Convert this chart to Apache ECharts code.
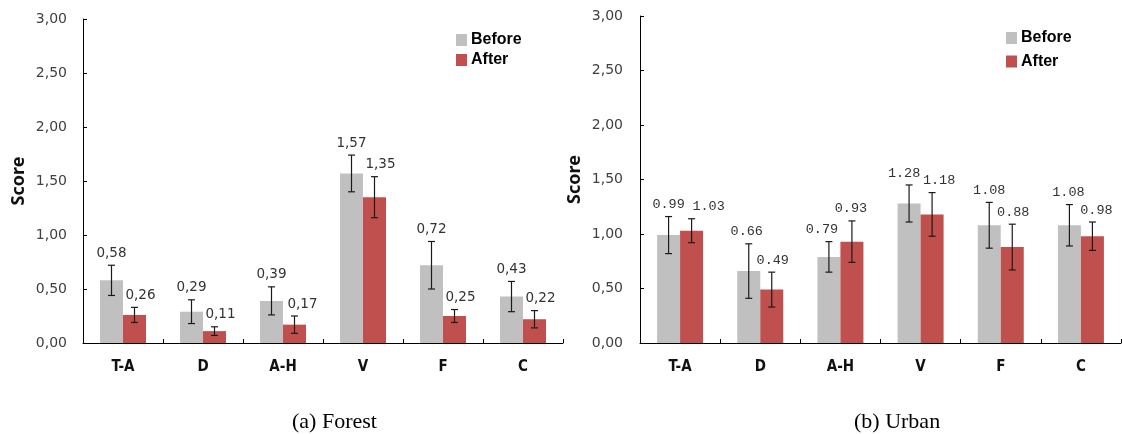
<!DOCTYPE html>
<html>
<head>
<meta charset="utf-8">
<script src="https://cdn.jsdelivr.net/npm/echarts@6/dist/echarts.min.js"></script>
<style>
  html, body { margin: 0; padding: 0; background: #ffffff; }
  #chart { width: 1122px; height: 434px; }
</style>
</head>
<body>
<div id="chart"></div>
<script>
// Symptom scores before and after, by category, for two settings
const categories = ['T-A', 'D', 'A-H', 'V', 'F', 'C'];

const forestBefore    = [0.58, 0.29, 0.39, 1.57, 0.72, 0.43];
const forestAfter     = [0.26, 0.11, 0.17, 1.35, 0.25, 0.22];
const forestBeforeErr = [0.14, 0.11, 0.13, 0.17, 0.22, 0.14];
const forestAfterErr  = [0.07, 0.04, 0.08, 0.19, 0.06, 0.08];

const urbanBefore     = [0.99, 0.66, 0.79, 1.28, 1.08, 1.08];
const urbanAfter      = [1.03, 0.49, 0.93, 1.18, 0.88, 0.98];
const urbanBeforeErr  = [0.17, 0.25, 0.14, 0.17, 0.21, 0.19];
const urbanAfterErr   = [0.11, 0.16, 0.19, 0.20, 0.21, 0.13];

const seriesNames = ['Before', 'After'];
const panelTitles = ['(a) Forest', '(b) Urban'];

const COLOR_BEFORE = '#C0C0C0';
const COLOR_AFTER = '#C0504D';
const BAR_W = 23;

// Panel layout and label styling
const panels = [
  {
    grid: { left: 83, top: 19, width: 480, height: 324 },
    before: forestBefore, after: forestAfter,
    beforeErr: forestBeforeErr, afterErr: forestAfterErr,
    valueFont: '13.5px "DejaVu Sans"', decimal: ',',
    nudgeBefore: [0, 0, 0, 0, 0, 0], nudgeAfter: [6, 6, 8, 6, 6, 6],
    legendTop: 32, legendLeft: 456, legendGap: 4,
    nameGap: 55, labelMargin: 16,
    captionX: 335
  },
  {
    grid: { left: 640, top: 16, width: 481, height: 327 },
    before: urbanBefore, after: urbanAfter,
    beforeErr: urbanBeforeErr, afterErr: urbanAfterErr,
    valueFont: '13.5px "Liberation Mono"', decimal: '.',
    nudgeBefore: [0, -2, -7, -5, 0, -1], nudgeAfter: [17, 1, -1, 7, 1, 4],
    legendTop: 30, legendLeft: 1006, legendGap: 7.5,
    nameGap: 56, labelMargin: 17,
    captionX: 897
  }
];

const chart = echarts.init(document.getElementById('chart'));

const grids = [], xAxes = [], yAxes = [], series = [], legends = [], graphics = [];

// Error bar with caps plus the value label above it
function errorRenderer(values, errs, side, nudges, font, decimal) {
  return function (params, api) {
    const i = api.value(0);
    const v = values[i], e = errs[i];
    const top = api.coord([i, v + e]);
    const bot = api.coord([i, v - e]);
    const x = top[0] + side * BAR_W / 2;
    const cap = 3.5;
    const lineStyle = { stroke: '#1a1a1a', lineWidth: 1.2 };
    return {
      type: 'group',
      children: [
        { type: 'line', shape: { x1: x, y1: top[1], x2: x, y2: bot[1] }, style: lineStyle },
        { type: 'line', shape: { x1: x - cap, y1: top[1], x2: x + cap, y2: top[1] }, style: lineStyle },
        { type: 'line', shape: { x1: x - cap, y1: bot[1], x2: x + cap, y2: bot[1] }, style: lineStyle },
        {
          type: 'text',
          style: {
            x: x + nudges[i], y: top[1] - 5,
            text: v.toFixed(2).replace('.', decimal),
            font: font, fill: '#333333',
            textAlign: 'center', textVerticalAlign: 'bottom'
          }
        }
      ]
    };
  };
}

panels.forEach(function (p, k) {
  grids.push(p.grid);
  xAxes.push({
    type: 'category', gridIndex: k, data: categories,
    axisLine: { lineStyle: { color: '#000', width: 1 } },
    axisTick: { show: true, inside: true, length: 4, lineStyle: { color: '#000' } },
    axisLabel: {
      margin: 17, color: '#111',
      fontFamily: 'DejaVu Sans Condensed', fontWeight: 'bold', fontSize: 15
    },
    splitLine: { show: false }
  });
  yAxes.push({
    type: 'value', gridIndex: k, min: 0, max: 3, interval: 0.5,
    name: 'Score', nameLocation: 'middle', nameGap: p.nameGap,
    nameTextStyle: { fontFamily: 'Noto Sans', fontWeight: 'bold', fontSize: 18, color: '#111' },
    axisLine: { show: true, lineStyle: { color: '#000', width: 1 } },
    axisTick: { show: true, inside: true, length: 4, lineStyle: { color: '#000' } },
    axisLabel: {
      margin: p.labelMargin, color: '#404040',
      fontFamily: 'DejaVu Sans', fontSize: 14,
      formatter: function (v) { return v.toFixed(2).replace('.', ','); }
    },
    splitLine: { show: false }
  });

  series.push({
    name: seriesNames[0], type: 'bar', xAxisIndex: k, yAxisIndex: k,
    data: p.before, barWidth: BAR_W, barGap: '0%',
    itemStyle: { color: COLOR_BEFORE }, silent: true
  });
  series.push({
    name: seriesNames[1], type: 'bar', xAxisIndex: k, yAxisIndex: k,
    data: p.after, barWidth: BAR_W, barGap: '0%',
    itemStyle: { color: COLOR_AFTER }, silent: true
  });
  series.push({
    type: 'custom', xAxisIndex: k, yAxisIndex: k, silent: true, z: 5,
    data: categories.map(function (c, i) { return [i]; }),
    renderItem: errorRenderer(p.before, p.beforeErr, -1, p.nudgeBefore, p.valueFont, p.decimal)
  });
  series.push({
    type: 'custom', xAxisIndex: k, yAxisIndex: k, silent: true, z: 5,
    data: categories.map(function (c, i) { return [i]; }),
    renderItem: errorRenderer(p.after, p.afterErr, 1, p.nudgeAfter, p.valueFont, p.decimal)
  });

  legends.push({
    data: seriesNames, orient: 'vertical', padding: 0,
    left: p.legendLeft, top: p.legendTop, itemGap: p.legendGap,
    itemWidth: 11, itemHeight: 12, icon: 'rect',
    textStyle: {
      fontFamily: 'Liberation Sans', fontWeight: 'bold', fontSize: 16,
      color: '#000', padding: [0, 0, 0, -1]
    },
    selectedMode: false
  });

  graphics.push({
    type: 'text', left: p.captionX - 43, top: 411,
    style: { text: panelTitles[k], font: '22px "Liberation Serif"', fill: '#000' }
  });
});

chart.setOption({
  animation: false,
  backgroundColor: '#ffffff',
  grid: grids, xAxis: xAxes, yAxis: yAxes,
  legend: legends, series: series, graphic: graphics
});
</script>
</body>
</html>
